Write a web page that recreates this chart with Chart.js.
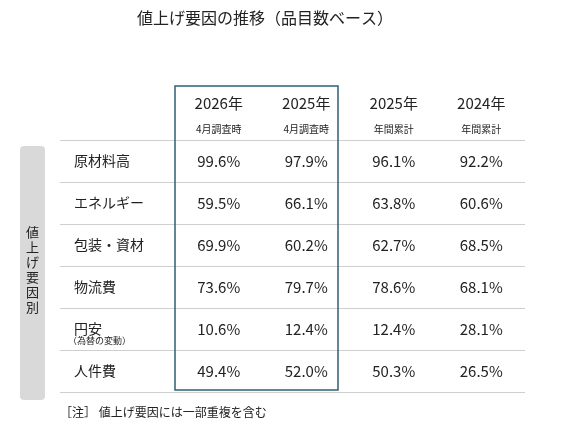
<!DOCTYPE html>
<html><head><meta charset="utf-8">
<script src="https://cdn.jsdelivr.net/npm/chart.js@4"></script>
<style>body{margin:0;background:#fff}#w{width:570px;height:439px}</style>
</head><body><div id="w"><canvas id="c"></canvas></div>
<script>
const columns = ['2026年','2025年','2025年','2024年'];
const subLabels = ['4月調査時','4月調査時','年間累計','年間累計'];
const rows = ['原材料高','エネルギー','包装・資材','物流費','円安','人件費'];
const v2026 = [99.6,59.5,69.9,73.6,10.6,49.4];
const v2025apr = [97.9,66.1,60.2,79.7,12.4,52.0];
const v2025 = [96.1,63.8,62.7,78.6,12.4,50.3];
const v2024 = [92.2,60.6,68.5,68.1,28.1,26.5];
const series = [v2026,v2025apr,v2025,v2024];
const F = '"Noto Sans CJK JP","Noto Sans",sans-serif';

const tablePlugin = {
  id:'table',
  beforeDatasetsDraw(chart){
    const ctx=chart.ctx, ys=chart.scales.y, a=chart.chartArea;
    const h=(ys.getPixelForValue(1)-ys.getPixelForValue(0))/2;
    ctx.save();ctx.strokeStyle='#cfcfcf';ctx.lineWidth=1;
    for(let j=0;j<=rows.length;j++){
      const y=Math.round(ys.getPixelForValue(0)-h+j*2*h)+0.5;
      ctx.beginPath();ctx.moveTo(60,y);ctx.lineTo(a.right,y);ctx.stroke();
    }
    ctx.restore();
  },
  afterDraw(chart){
    const ctx=chart.ctx, xs=chart.scales.x, ys=chart.scales.y, a=chart.chartArea;
    ctx.save();
    ctx.fillStyle='#222';ctx.textAlign='center';ctx.textBaseline='middle';
    ctx.font='16px '+F;
    ctx.fillText('値上げ要因の推移（品目数ベース）',265,18);
    columns.forEach((c,i)=>{
      const x=xs.getPixelForValue(i);
      ctx.font='15px '+F;ctx.fillText(c,x,103);
      ctx.font='10px '+F;ctx.fillText(subLabels[i],x,129);
    });
    ctx.font='15px '+F;
    series.forEach((s,i)=>{
      const x=xs.getPixelForValue(i);
      s.forEach((v,j)=>ctx.fillText(v.toFixed(1)+'%',x,ys.getPixelForValue(j)));
    });
    ctx.textAlign='left';ctx.font='9px '+F;
    ctx.fillText('（為替の変動）',68,ys.getPixelForValue(4)+12);
    const half=(xs.getPixelForValue(1)-xs.getPixelForValue(0))/2;
    const l=xs.getPixelForValue(0)-half, r=xs.getPixelForValue(1)+half-12;
    ctx.strokeStyle='#2e5f73';ctx.lineWidth=1.5;
    ctx.strokeRect(l,86,r-l,a.bottom-86-2);
    ctx.fillStyle='#d9d9d9';
    ctx.beginPath();ctx.roundRect(20,146,25,254,4);ctx.fill();
    ctx.fillStyle='#222';ctx.font='13px '+F;ctx.textAlign='center';
    const t='値上げ要因別';
    for(let k=0;k<t.length;k++) ctx.fillText(t[k],32.5,232+k*15);
    ctx.textAlign='left';ctx.font='12px '+F;
    ctx.fillText('［注］ 値上げ要因には一部重複を含む',60,412);
    ctx.restore();
  }
};

new Chart(document.getElementById('c'),{
  type:'scatter',
  data:{datasets:[]},
  options:{
    responsive:true,maintainAspectRatio:false,animation:false,
    layout:{padding:{top:140,bottom:39,right:45,left:74}},
    plugins:{legend:{display:false},tooltip:{enabled:false}},
    scales:{
      x:{type:'category',labels:columns,offset:true,display:true,
        grid:{display:false},border:{display:false},ticks:{display:false}},
      y:{type:'category',labels:rows,offset:true,
        grid:{display:false},
        border:{display:false},
        afterFit(s){s.width=101;},
        ticks:{crossAlign:'far',padding:0,color:'#222',font:{size:14,family:F},
          callback:(v,i)=>rows[i]}}
    }
  },
  plugins:[tablePlugin]
});
</script></body></html>
